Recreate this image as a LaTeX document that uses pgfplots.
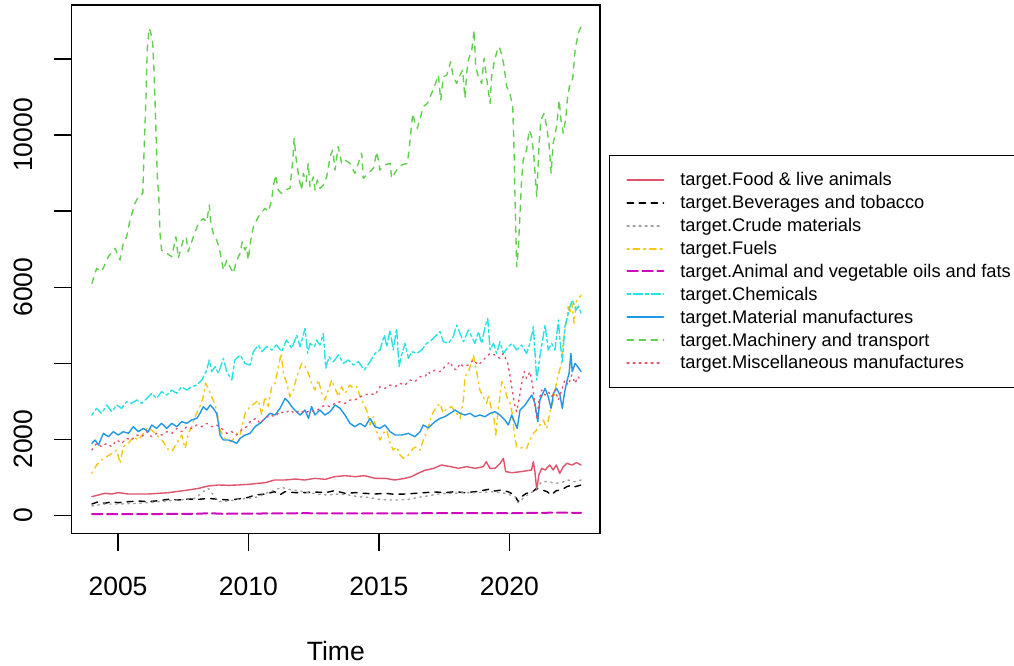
\documentclass[border=0pt]{standalone}
\usepackage{pgfplots}
\pgfplotsset{compat=1.18}
\usepackage{fontspec}
\setmainfont{Liberation Sans}
\definecolor{rFood}{RGB}{223,83,107}
\definecolor{rGray}{RGB}{158,158,158}
\definecolor{rYellow}{RGB}{245,199,16}
\definecolor{rMagenta}{RGB}{205,11,188}
\definecolor{rCyan}{RGB}{40,226,229}
\definecolor{rBlue}{RGB}{34,151,230}
\definecolor{rGreen}{RGB}{97,208,79}
\newcommand{\tickfont}{\fontsize{26.5}{30}\selectfont}
\newcommand{\legfont}{\fontsize{18.3}{22}\selectfont}
\pgfplotsset{
  sFood/.style={draw=rFood, line width=1.4pt, solid},
  sBev/.style={draw=black, line width=1.4pt, dash pattern=on 6pt off 6pt},
  sCrude/.style={draw=rGray, line width=1.4pt, dash pattern=on 1.5pt off 4.5pt},
  sFuel/.style={draw=rYellow, line width=1.4pt, dash pattern=on 1.5pt off 4.5pt on 6pt off 4.5pt},
  sOil/.style={draw=rMagenta, line width=2pt, dash pattern=on 10.5pt off 4.5pt},
  sChem/.style={draw=rCyan, line width=1.4pt, dash pattern=on 3pt off 3pt on 9pt off 3pt},
  sMat/.style={draw=rBlue, line width=1.4pt, solid},
  sMach/.style={draw=rGreen, line width=1.4pt, dash pattern=on 6pt off 6pt},
  sMisc/.style={draw=rFood, line width=1.4pt, dash pattern=on 1.5pt off 4.5pt},
}
\begin{document}
\begin{tikzpicture}
\begin{axis}[
  at={(71.7pt,132.7pt)}, anchor=south west,
  scale only axis, width=528.3pt, height=528.3pt,
  xmin=2003.225, xmax=2023.475, ymin=-473, ymax=13418,
  scaled x ticks=false, scaled y ticks=false,
  axis line style={line width=1.2pt, black},
  xtick={2005,2010,2015,2020}, xticklabels={2005,2010,2015,2020},
  ytick={0,2000,4000,6000,8000,10000,12000}, yticklabels={0,2000,,6000,,10000,},
  tick align=outside, major tick length=17.5pt,
  xtick pos=left, ytick pos=left,
  tick style={line width=1.2pt, black},
  xticklabel style={font=\tickfont, inner sep=0pt, anchor=north},
  yticklabel style={font=\tickfont, inner sep=0pt, rotate=90, anchor=south},
  xticklabel shift=25.9pt, yticklabel shift=20.9pt,
  xlabel={Time},
  xlabel style={font=\tickfont, inner sep=0pt, anchor=north, at={(axis description cs:0.5,0)}, yshift=-107.7pt},
  every axis plot/.append style={line cap=round, line join=round},
  legend cell align=left,
  legend image code/.code={\draw[#1, line width=2pt, line cap=round] (0pt,0pt) -- (36pt,0pt);},
  legend style={at={(axis description cs:1.017,0.716)}, anchor=north west, draw=black, line width=1.2pt,
    inner xsep=16.7pt, inner ysep=12.8pt, row sep=0pt, column sep=16pt,
    font=\legfont, nodes={inner sep=0pt, minimum height=22.9pt}, cells={anchor=west}},
]
% Food & live animals
\addplot[sFood, forget plot] table {
2004.0 490
2004.25 534
2004.5 578
2004.75 560
2005.0 596
2005.4 560
2005.8 560
2006.15 560
2006.55 578
2006.95 596
2007.3 630
2007.7 666
2008.1 710
2008.45 770
2008.85 797
2009.25 788
2009.6 797
2010.0 814
2010.35 840
2010.65 858
2011.0 928
2011.4 928
2011.8 954
2012.15 928
2012.55 972
2012.95 946
2013.3 1016
2013.7 1042
2014.1 1016
2014.45 1042
2014.85 972
2015.25 972
2015.6 928
2016.0 972
2016.25 1016
2016.5 1104
2016.75 1180
2017.1 1235
2017.4 1323
2017.75 1279
2018.05 1235
2018.35 1279
2018.7 1235
2019.0 1279
2019.12 1411
2019.25 1235
2019.45 1235
2019.65 1367
2019.77 1498
2019.86 1148
2020.1 1121
2020.45 1148
2020.85 1191
2020.92 1411
2020.98 1148
2021.05 666
2021.13 1060
2021.24 1235
2021.37 1191
2021.55 1323
2021.68 1191
2021.8 1323
2021.93 1104
2022.07 1279
2022.2 1367
2022.4 1323
2022.58 1385
2022.75 1323
};
% Beverages and tobacco
\addplot[sBev, forget plot] table {
2004.0 297
2004.25 358
2004.5 315
2004.75 358
2005.0 332
2005.4 358
2005.8 376
2006.15 358
2006.55 385
2006.95 420
2007.3 402
2007.7 428
2008.1 420
2008.45 446
2008.85 420
2009.25 402
2009.6 428
2010.0 472
2010.25 534
2010.65 560
2011.0 621
2011.2 534
2011.4 621
2011.8 596
2012.15 596
2012.55 613
2012.95 596
2013.3 648
2013.7 578
2014.1 596
2014.45 578
2014.85 560
2015.25 578
2015.6 551
2016.0 560
2016.4 578
2016.75 596
2017.15 613
2017.55 596
2017.9 621
2018.3 596
2018.7 621
2018.95 648
2019.2 683
2019.45 639
2019.7 666
2019.95 621
2020.2 534
2020.34 358
2020.47 490
2020.65 578
2020.85 596
2021.05 710
2021.25 666
2021.45 621
2021.6 534
2021.8 648
2022.0 666
2022.2 753
2022.4 797
2022.52 753
2022.75 797
};
% Crude materials
\addplot[sCrude, forget plot] table {
2004.0 245
2004.5 297
2005.0 297
2005.8 315
2006.55 358
2007.3 402
2007.95 446
2008.27 621
2008.46 710
2008.65 534
2008.85 358
2009.25 376
2009.6 420
2010.0 446
2010.4 490
2010.65 578
2011.0 666
2011.27 736
2011.53 683
2011.9 648
2012.3 596
2012.7 551
2013.05 534
2013.45 560
2013.85 534
2014.2 490
2014.6 472
2015.0 420
2015.35 402
2015.75 402
2016.15 420
2016.5 472
2016.85 507
2017.3 560
2017.8 578
2018.3 596
2018.8 596
2019.3 621
2019.85 578
2020.22 490
2020.34 332
2020.6 490
2021.0 666
2021.24 885
2021.5 885
2021.75 841
2022.0 858
2022.25 928
2022.5 885
2022.75 928
};
% Fuels
\addplot[sFuel, forget plot] table {
2004.0 1104
2004.18 1322
2004.37 1454
2004.57 1542
2004.76 1629
2004.95 1717
2005.08 1367
2005.2 1805
2005.4 1892
2005.59 2067
2005.78 1980
2005.97 2155
2006.16 2330
2006.35 2199
2006.55 2067
2006.74 1936
2006.87 1761
2007.06 1673
2007.25 1892
2007.44 2111
2007.57 1761
2007.7 2155
2007.82 2330
2007.95 2593
2008.14 2856
2008.27 3119
2008.36 3469
2008.46 3338
2008.56 3163
2008.65 3031
2008.78 2768
2008.91 2243
2009.04 2067
2009.17 1980
2009.36 1936
2009.55 2155
2009.68 2111
2009.87 2681
2010.06 2856
2010.25 2950
2010.38 3031
2010.51 2637
2010.63 3119
2010.76 2856
2010.89 3382
2011.02 3469
2011.15 3908
2011.25 4258
2011.34 3732
2011.47 3469
2011.59 3119
2011.72 3294
2011.85 3645
2012.04 3995
2012.17 3908
2012.3 3732
2012.42 3469
2012.55 3294
2012.68 3557
2012.81 3206
2012.93 3031
2013.06 3294
2013.19 3557
2013.32 3338
2013.45 3119
2013.57 3382
2013.7 3206
2013.89 3425
2014.02 3338
2014.15 3382
2014.28 3119
2014.4 2944
2014.53 2768
2014.66 2374
2014.79 2593
2014.92 2199
2015.04 1980
2015.17 2155
2015.3 2243
2015.43 1892
2015.55 1717
2015.68 1805
2015.81 1586
2015.94 1498
2016.13 1586
2016.32 1761
2016.45 1805
2016.58 1717
2016.7 1980
2016.89 2300
2017.02 2637
2017.21 2856
2017.34 2944
2017.47 2681
2017.6 2812
2017.79 2856
2017.98 2681
2018.11 2549
2018.24 3031
2018.3 3645
2018.43 3776
2018.56 4039
2018.62 4214
2018.75 3776
2018.87 3294
2019.0 3119
2019.13 2944
2019.2 3163
2019.32 2768
2019.42 2505
2019.48 2111
2019.58 2812
2019.71 3513
2019.81 3425
2019.9 3119
2020.03 2944
2020.11 2681
2020.19 2155
2020.28 1805
2020.41 1761
2020.54 1805
2020.66 1761
2020.79 1980
2020.92 2155
2021.05 2243
2021.17 2374
2021.3 2505
2021.43 2286
2021.56 2725
2021.69 3031
2021.81 3513
2021.88 3689
2022.01 4039
2022.07 4609
2022.13 4871
2022.2 5134
2022.25 5485
2022.32 5310
2022.4 5572
2022.48 5050
2022.58 5660
2022.75 5780
};
% Animal and vegetable oils and fats
\addplot[sOil, forget plot] table {
2004.0 30
2006.0 32
2008.0 40
2008.5 55
2009.0 40
2011.0 50
2012.0 55
2014.0 50
2016.0 52
2018.0 60
2020.0 55
2021.0 65
2022.0 70
2022.75 65
};
% Chemicals
\addplot[sChem, forget plot] table {
2004.0 2637
2004.18 2812
2004.37 2681
2004.57 2900
2004.76 2724
2004.95 2900
2005.14 2812
2005.33 2987
2005.52 2944
2005.72 3031
2005.91 2944
2006.1 3075
2006.29 3206
2006.48 3075
2006.67 3250
2006.87 3163
2007.06 3294
2007.25 3206
2007.44 3382
2007.63 3294
2007.82 3382
2008.02 3425
2008.21 3557
2008.4 3820
2008.5 4083
2008.59 3776
2008.72 3908
2008.85 3733
2009.04 4127
2009.17 3776
2009.36 3557
2009.48 4083
2009.68 4214
2009.87 3995
2010.06 3951
2010.19 4302
2010.38 4477
2010.51 4302
2010.7 4433
2010.89 4346
2011.08 4477
2011.27 4302
2011.46 4609
2011.66 4390
2011.85 4740
2011.98 4433
2012.17 4915
2012.27 4258
2012.36 4521
2012.53 4433
2012.61 4609
2012.74 4477
2012.87 4784
2012.96 3870
2013.09 4171
2013.25 4039
2013.45 4214
2013.64 3995
2013.83 4083
2014.02 3951
2014.21 4039
2014.44 3820
2014.66 4039
2014.85 4258
2015.04 4346
2015.21 4740
2015.3 4433
2015.43 4871
2015.55 4346
2015.68 4915
2015.77 3908
2015.87 4214
2016.0 4521
2016.13 4127
2016.26 4302
2016.45 4258
2016.64 4346
2016.83 4521
2016.96 4565
2017.15 4696
2017.34 4828
2017.47 4565
2017.66 4521
2017.85 4696
2017.98 5002
2018.11 4784
2018.24 4565
2018.43 4871
2018.56 4696
2018.68 4521
2018.81 4828
2018.94 4521
2019.07 4959
2019.17 5178
2019.26 4346
2019.39 4521
2019.51 4258
2019.64 4565
2019.77 4258
2019.96 4433
2020.11 4521
2020.28 4346
2020.47 4477
2020.66 4258
2020.79 4521
2020.92 4959
2021.05 3557
2021.17 4171
2021.37 5002
2021.49 4346
2021.62 4521
2021.75 4346
2021.88 5134
2021.94 4609
2022.03 4039
2022.13 4959
2022.23 5222
2022.32 5485
2022.42 5660
2022.55 5397
2022.65 5500
2022.75 5310
};
% Material manufactures
\addplot[sMat, forget plot] table {
2004.0 1892
2004.12 1980
2004.25 1848
2004.44 2155
2004.63 2067
2004.82 2199
2005.01 2111
2005.2 2199
2005.4 2155
2005.59 2330
2005.78 2199
2005.97 2286
2006.16 2199
2006.29 2374
2006.48 2286
2006.67 2418
2006.87 2286
2007.06 2418
2007.25 2330
2007.44 2462
2007.63 2418
2007.82 2505
2008.02 2549
2008.14 2681
2008.27 2856
2008.4 2768
2008.53 2900
2008.65 2812
2008.78 2681
2008.85 2418
2008.91 2111
2009.04 1980
2009.23 1980
2009.42 1936
2009.55 1892
2009.68 2023
2009.87 2111
2010.06 2155
2010.25 2330
2010.44 2418
2010.63 2549
2010.83 2681
2011.02 2637
2011.21 2812
2011.4 3075
2011.53 2987
2011.66 2856
2011.78 2768
2011.98 2637
2012.17 2768
2012.3 2549
2012.42 2856
2012.55 2637
2012.74 2768
2012.93 2637
2013.13 2725
2013.32 2900
2013.51 2812
2013.7 2637
2013.89 2418
2014.08 2330
2014.28 2418
2014.47 2330
2014.66 2549
2014.85 2330
2015.04 2286
2015.23 2374
2015.43 2199
2015.62 2111
2015.87 2111
2016.13 2155
2016.38 2067
2016.58 2199
2016.7 2374
2016.89 2300
2017.15 2462
2017.34 2549
2017.53 2593
2017.73 2681
2017.92 2768
2018.11 2681
2018.3 2637
2018.49 2681
2018.68 2593
2018.87 2637
2019.07 2593
2019.26 2681
2019.45 2725
2019.64 2637
2019.83 2505
2019.96 2374
2020.09 2637
2020.22 2418
2020.3 2286
2020.41 2768
2020.6 2900
2020.73 3031
2020.86 3163
2020.98 2944
2021.09 2462
2021.17 3031
2021.37 3338
2021.49 3119
2021.6 2812
2021.69 3206
2021.81 3338
2021.94 3163
2022.03 2812
2022.11 3206
2022.2 3513
2022.29 3732
2022.36 4258
2022.41 3776
2022.52 3995
2022.62 3908
2022.75 3776
};
% Machinery and transport
\addplot[sMach, forget plot] table {
2004.0 6100
2004.18 6494
2004.37 6404
2004.63 6799
2004.89 7019
2005.08 6712
2005.2 7151
2005.33 7324
2005.46 7763
2005.65 8202
2005.78 8376
2005.95 8465
2006.0 9604
2006.07 10918
2006.12 12233
2006.19 12803
2006.25 12714
2006.33 12409
2006.39 11531
2006.45 10216
2006.51 8815
2006.56 8465
2006.61 7414
2006.67 6975
2006.87 6888
2007.06 6799
2007.22 7324
2007.31 6757
2007.5 7238
2007.61 7324
2007.69 6930
2007.89 7324
2008.08 7677
2008.27 7808
2008.4 7719
2008.5 8158
2008.55 7719
2008.65 7414
2008.78 7238
2008.88 7019
2008.97 6712
2009.04 6449
2009.17 6712
2009.29 6536
2009.42 6362
2009.55 6712
2009.68 6888
2009.76 7193
2009.87 6975
2009.93 7062
2009.99 6712
2010.09 7238
2010.19 7587
2010.38 7850
2010.63 8071
2010.76 7982
2010.89 8289
2010.95 8639
2011.04 8947
2011.14 8552
2011.27 8465
2011.4 8552
2011.59 8597
2011.7 9341
2011.75 9911
2011.82 9428
2011.87 9165
2011.95 8815
2012.04 8552
2012.1 8991
2012.21 8770
2012.29 9254
2012.36 8639
2012.49 8902
2012.55 8552
2012.64 8815
2012.74 8597
2012.87 8684
2013.0 8902
2013.13 9428
2013.23 9604
2013.32 9078
2013.44 9691
2013.57 9254
2013.7 9341
2013.89 9254
2014.08 8991
2014.21 9254
2014.34 9517
2014.4 8860
2014.6 9000
2014.79 9123
2014.92 9559
2015.04 9078
2015.23 9210
2015.43 9254
2015.49 8860
2015.68 9078
2015.87 9210
2016.09 9254
2016.17 9691
2016.22 10043
2016.3 10569
2016.38 10306
2016.47 10174
2016.58 10437
2016.7 10742
2016.86 10831
2017.02 11094
2017.15 11313
2017.28 11576
2017.37 10918
2017.47 11531
2017.6 11576
2017.75 11925
2017.85 11531
2017.98 11357
2018.11 11576
2018.21 11707
2018.3 10963
2018.37 11662
2018.43 11970
2018.56 12233
2018.65 12759
2018.71 11794
2018.81 11531
2018.94 11357
2019.03 12015
2019.13 11489
2019.26 10831
2019.32 11531
2019.42 11925
2019.52 12188
2019.61 12320
2019.71 12101
2019.79 11838
2019.9 11268
2020.02 11094
2020.13 10742
2020.18 9604
2020.22 8289
2020.28 6536
2020.34 6975
2020.41 7940
2020.47 8815
2020.53 9341
2020.66 9604
2020.76 10130
2020.86 9953
2020.94 9428
2021.05 8376
2021.14 9780
2021.21 10392
2021.33 10569
2021.43 10216
2021.52 9780
2021.6 8991
2021.68 9780
2021.81 10216
2021.91 10918
2021.98 10392
2022.07 10043
2022.17 10479
2022.22 10918
2022.3 11268
2022.43 11489
2022.52 12233
2022.64 12672
2022.75 12850
};
% Miscellaneous manufactures
\addplot[sMisc, forget plot] table {
2004.0 1717
2004.18 1892
2004.37 1805
2004.57 1892
2004.76 1805
2004.95 1980
2005.14 1892
2005.33 2023
2005.52 1980
2005.72 2111
2005.91 2067
2006.1 2199
2006.29 2067
2006.48 2155
2006.67 2111
2006.87 2199
2007.06 2155
2007.25 2286
2007.44 2199
2007.63 2330
2007.82 2286
2008.02 2374
2008.21 2330
2008.4 2418
2008.59 2330
2008.78 2374
2008.97 2286
2009.17 2155
2009.36 2199
2009.55 2111
2009.74 2243
2009.93 2330
2010.12 2505
2010.31 2549
2010.44 2418
2010.63 2549
2010.83 2637
2011.02 2593
2011.21 2725
2011.4 2681
2011.59 2768
2011.78 2681
2011.98 2768
2012.17 2681
2012.36 2768
2012.55 2725
2012.74 2812
2012.93 2900
2013.13 2856
2013.32 2944
2013.51 2987
2013.7 2944
2013.89 3031
2014.08 3031
2014.28 3119
2014.47 3163
2014.66 3206
2014.85 3163
2015.04 3382
2015.23 3338
2015.43 3425
2015.62 3382
2015.81 3469
2016.0 3425
2016.19 3557
2016.38 3513
2016.58 3645
2016.77 3650
2016.89 3776
2016.96 3732
2017.15 3820
2017.34 3776
2017.53 3908
2017.73 4039
2017.85 3864
2017.98 3820
2018.11 3995
2018.24 3908
2018.43 3951
2018.62 4083
2018.81 3951
2019.0 4083
2019.13 4171
2019.26 4258
2019.45 4214
2019.64 4127
2019.77 4258
2019.94 3995
2020.03 3645
2020.11 3294
2020.19 2944
2020.28 2725
2020.37 3031
2020.47 3469
2020.57 3776
2020.66 3601
2020.79 3776
2020.88 3469
2020.98 2900
2021.05 2549
2021.14 3031
2021.24 3294
2021.37 3163
2021.49 3250
2021.62 3119
2021.75 3294
2021.88 3031
2022.01 3294
2022.13 3557
2022.26 3425
2022.39 3689
2022.52 3469
2022.62 3645
2022.75 3557
};
\addlegendimage{sFood}
\addlegendentry{target.Food \& live animals}
\addlegendimage{sBev}
\addlegendentry{target.Beverages and tobacco}
\addlegendimage{sCrude}
\addlegendentry{target.Crude materials}
\addlegendimage{sFuel}
\addlegendentry{target.Fuels}
\addlegendimage{sOil}
\addlegendentry{target.Animal and vegetable oils and fats}
\addlegendimage{sChem}
\addlegendentry{target.Chemicals}
\addlegendimage{sMat}
\addlegendentry{target.Material manufactures}
\addlegendimage{sMach}
\addlegendentry{target.Machinery and transport}
\addlegendimage{sMisc}
\addlegendentry{target.Miscellaneous manufactures}
\end{axis}
\pgfresetboundingbox
\useasboundingbox (0pt,0pt) rectangle (1014pt,666pt);
\end{tikzpicture}
\end{document}
